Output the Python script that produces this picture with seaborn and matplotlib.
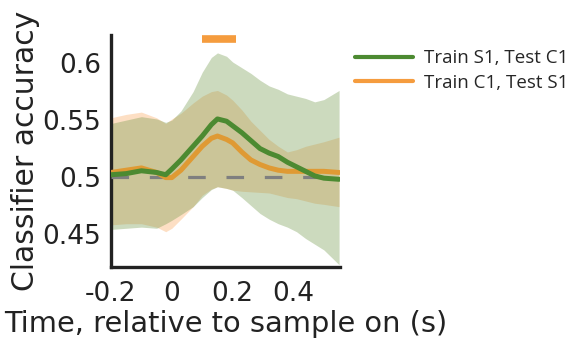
import numpy as np
import pandas as pd
import seaborn as sns
import matplotlib
matplotlib.use("Agg")
import matplotlib.pyplot as plt
from matplotlib.lines import Line2D

# Time axis (s, relative to sample onset)
time = [-0.2, -0.15, -0.1, -0.05, -0.02, 0.0, 0.03, 0.07, 0.1, 0.13, 0.15, 0.18,
        0.2, 0.23, 0.26, 0.29, 0.32, 0.35, 0.38, 0.41, 0.44, 0.47, 0.5, 0.55]

# Train S1, Test C1
s1c1_mean = [0.502, 0.503, 0.5055, 0.504, 0.502, 0.507, 0.515, 0.527, 0.536, 0.546, 0.551, 0.549,
             0.545, 0.539, 0.532, 0.525, 0.521, 0.518, 0.513, 0.509, 0.505, 0.501, 0.499, 0.498]
s1c1_upper = [0.547, 0.550, 0.553, 0.551, 0.548, 0.550, 0.558, 0.575, 0.592, 0.605, 0.609, 0.606,
              0.601, 0.596, 0.591, 0.585, 0.580, 0.577, 0.573, 0.571, 0.569, 0.566, 0.568, 0.576]
s1c1_lower = [0.454, 0.455, 0.456, 0.455, 0.459, 0.462, 0.467, 0.474, 0.482, 0.489, 0.4915, 0.490,
              0.4885, 0.482, 0.475, 0.468, 0.463, 0.459, 0.456, 0.452, 0.446, 0.441, 0.436, 0.423]

# Train C1, Test S1
c1s1_mean = [0.504, 0.506, 0.508, 0.504, 0.4995, 0.4995, 0.506, 0.518, 0.527, 0.534, 0.536, 0.533,
             0.530, 0.522, 0.515, 0.511, 0.508, 0.506, 0.505, 0.505, 0.505, 0.505, 0.505, 0.504]
c1s1_upper = [0.552, 0.555, 0.557, 0.552, 0.547, 0.551, 0.556, 0.565, 0.571, 0.575, 0.576, 0.572,
              0.5675, 0.559, 0.549, 0.541, 0.533, 0.527, 0.522, 0.524, 0.527, 0.529, 0.531, 0.535]
c1s1_lower = [0.458, 0.459, 0.459, 0.456, 0.452, 0.455, 0.463, 0.474, 0.484, 0.4895, 0.4915, 0.490,
              0.4885, 0.4875, 0.487, 0.4865, 0.486, 0.484, 0.482, 0.481, 0.479, 0.477, 0.476, 0.474]

labels = ["Train S1, Test C1", "Train C1, Test S1"]
chance = 0.5
sig_window = [0.1, 0.21]   # significant cluster, C1 -> S1

xticks = [-0.2, 0.0, 0.2, 0.4]
xticklabels = ["-0.2", "0", "0.2", "0.4"]
yticks = [0.45, 0.5, 0.55, 0.6]
yticklabels = ["0.45", "0.5", "0.55", "0.6"]

green_line = "#4c8a31"
green_fill = "#6e9646"
orange_line = "#df9a34"
orange_fill = "#fa963c"
orange_legend = "#f59c3e"
ink = "#222222"

sns.set_style("white")
plt.rcParams["font.family"] = ["DejaVu Sans"]

df = pd.DataFrame({
    "time": time * 2,
    "acc": s1c1_mean + c1s1_mean,
    "cond": [labels[0]] * len(time) + [labels[1]] * len(time),
})

fig = plt.figure(figsize=(5.79, 3.41), dpi=100)
ax = fig.add_axes([0.1917, 0.217, 0.3955, 0.68])

ax.fill_between(time, c1s1_lower, c1s1_upper, color=orange_fill, alpha=0.3, linewidth=0)
ax.fill_between(time, s1c1_lower, s1c1_upper, color=green_fill, alpha=0.35, linewidth=0)

ax.axhline(chance, color="#7f7f7f", lw=2.3, dashes=(5.5, 6.5), zorder=3)

sns.lineplot(data=df, x="time", y="acc", hue="cond", hue_order=[labels[1], labels[0]],
             palette={labels[0]: green_line, labels[1]: orange_line},
             lw=3.6, ax=ax, legend=False, zorder=4)

ax.plot(sig_window, [0.6215, 0.6215], color=orange_legend, lw=5.5,
        solid_capstyle="butt", clip_on=False, zorder=5)

ax.set_xlim(-0.2, 0.553)
ax.set_ylim(0.421, 0.6246)
ax.set_xticks(xticks)
ax.set_xticklabels(xticklabels)
ax.set_yticks(yticks)
ax.set_yticklabels(yticklabels)
ax.tick_params(axis="both", direction="in", length=3, width=1.5, colors=ink,
               labelsize=19, labelcolor=ink)
ax.tick_params(axis="x", pad=10)
ax.tick_params(axis="y", pad=7)
for s in ["top", "right"]:
    ax.spines[s].set_visible(False)
for s in ["left", "bottom"]:
    ax.spines[s].set_linewidth(2.4)
    ax.spines[s].set_color(ink)

ax.set_xlabel("Time, relative to sample on (s)", fontsize=20.8, color=ink, labelpad=2)
ax.set_ylabel("Classifier accuracy", fontsize=21.5, color=ink, labelpad=2)

handles = [Line2D([], [], color=green_line, lw=3),
           Line2D([], [], color=orange_legend, lw=3)]
fig.legend(handles, labels, loc="upper left", bbox_to_anchor=(0.600, 0.877),
           frameon=False, prop={"family": "Open Sans", "size": 13.5},
           handlelength=3.1, handletextpad=0.6, labelspacing=0.35, borderaxespad=0)

fig.savefig("out.png", dpi=100)
